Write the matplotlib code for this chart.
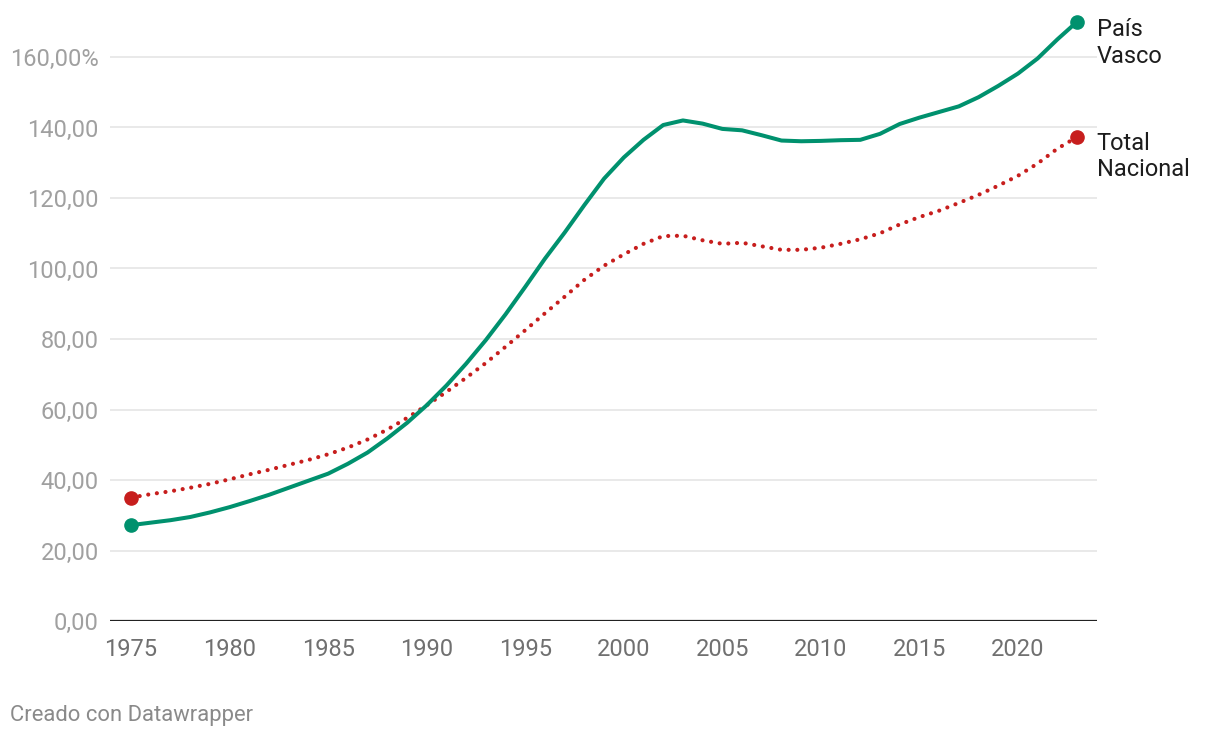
import matplotlib
matplotlib.use("Agg")
import matplotlib.pyplot as plt
import numpy as np

plt.rcParams['font.family'] = ['Roboto', 'DejaVu Sans']

years = list(range(1975, 2024))
pais_vasco = [27.2, 27.9, 28.6, 29.5, 30.8, 32.3, 34.0, 35.8, 37.8, 39.8,
              41.8, 44.6, 47.8, 51.8, 56.2, 61.2, 66.8, 73.0, 79.7, 87.0,
              94.8, 102.8, 110.2, 118.0, 125.5, 131.5, 136.5, 140.7, 142.0, 141.1,
              139.6, 139.2, 137.8, 136.3, 136.1, 136.2, 136.4, 136.5, 138.2, 141.0,
              142.8, 144.4, 146.0, 148.6, 151.8, 155.3, 159.6, 165.0, 170.0]
total_nacional = [35.0, 36.0, 36.8, 37.8, 38.9, 40.2, 41.6, 42.9, 44.3, 45.7,
                  47.3, 49.2, 51.5, 54.3, 57.6, 61.2, 65.0, 69.0, 73.2, 77.8,
                  82.5, 87.3, 92.0, 96.8, 100.8, 104.0, 107.0, 109.2, 109.3, 108.0,
                  107.0, 107.3, 106.3, 105.3, 105.3, 105.9, 107.0, 108.3, 110.0, 112.5,
                  114.6, 116.4, 118.6, 120.9, 123.5, 126.3, 129.8, 134.0, 137.3]
y_ticks = [0, 20, 40, 60, 80, 100, 120, 140, 160]
y_tick_labels = ["0,00", "20,00", "40,00", "60,00", "80,00", "100,00", "120,00", "140,00", "160,00%"]
x_ticks = [1975, 1980, 1985, 1990, 1995, 2000, 2005, 2010, 2015, 2020]
series_labels = ["País\nVasco", "Total\nNacional"]

GREEN = "#00916e"
RED = "#c71e1d"

fig = plt.figure(figsize=(12.2, 7.38), dpi=100)
ax = fig.add_axes([110/1220, (738-621)/738, (1097-110)/1220, (621-14.7)/738])

ax.set_xlim(1973.93, 2024.01)
ax.set_ylim(0, 172)

for y in y_ticks[1:]:
    ax.axhline(y, color="#e3e3e3", lw=1.1, zorder=0)
ax.axhline(0, color="#222222", lw=1.6, zorder=3)

ax.plot(years, total_nacional, color=RED, lw=3, linestyle=(0, (0.01, 2.08)),
        dash_capstyle='round', zorder=4)
ax.plot(years, pais_vasco, color=GREEN, lw=2.9, solid_capstyle='round', zorder=5)

ax.plot([years[0], years[-1]], [pais_vasco[0], pais_vasco[-1]], 'o', color=GREEN, ms=9.5, zorder=6)
ax.plot([years[0], years[-1]], [total_nacional[0], total_nacional[-1]], 'o', color=RED, ms=9.5, zorder=6)

for vals, lab, dy in zip([pais_vasco, total_nacional], series_labels, [-29.7, -28.2]):
    ax.annotate(lab, xy=(years[-1], vals[-1]), xytext=(14, dy), textcoords='offset points',
                ha='left', va='baseline', fontsize=17, color="#1d1d1d", linespacing=1.2,
                annotation_clip=False)

ax.set_yticks(y_ticks)
ax.set_yticklabels(y_tick_labels)
ax.set_xticks(x_ticks)
ax.set_xticklabels([str(x) for x in x_ticks])
ax.tick_params(axis='y', length=0, pad=8, labelsize=17, labelcolor="#a0a0a0")
ax.tick_params(axis='x', length=0, pad=12.5, labelsize=17, labelcolor="#707070")
for s in ax.spines.values():
    s.set_visible(False)

fig.text(10/1220, 1 - 716/738, "Creado con Datawrapper", fontsize=15.8, color="#8a8a8a",
         ha='left', va='center')

fig.savefig("out.png", dpi=100)
